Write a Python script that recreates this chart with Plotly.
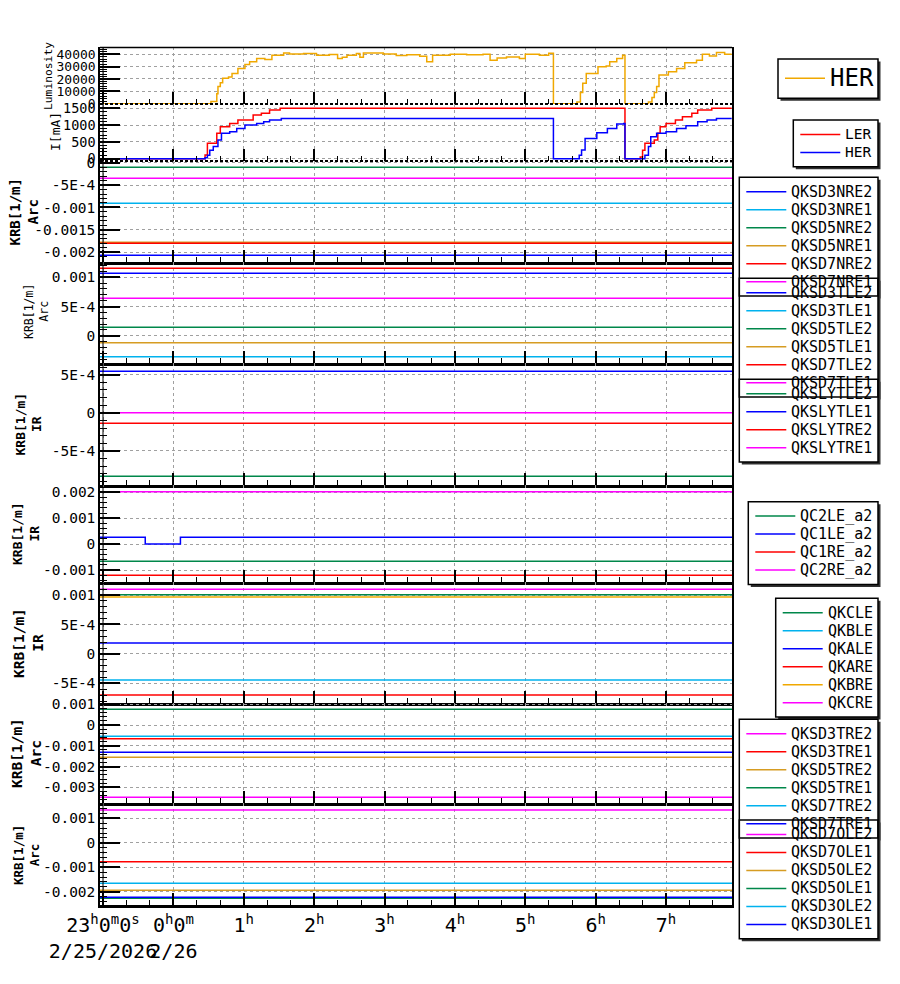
import plotly.graph_objects as go

# ---------------- data ----------------
RANGE_START = "2026-02-25 22:57:26"
RANGE_END = "2026-02-26 07:56:15"
SPAN_START = "22:57"
SPAN_END = "07:57"

x_tickvals = ["23:00", "00:00", "01:00", "02:00", "03:00", "04:00", "05:00", "06:00", "07:00"]
x_ticktext = ["23<sup>h</sup>0<sup>m</sup>0<sup>s</sup><br>2/25/2026", "0<sup>h</sup>0<sup>m</sup><br>2/26",
              "1<sup>h</sup>", "2<sup>h</sup>", "3<sup>h</sup>", "4<sup>h</sup>", "5<sup>h</sup>",
              "6<sup>h</sup>", "7<sup>h</sup>"]

lum_her_t = ["22:57", "00:32", "00:37", "00:38", "00:40", "00:42", "00:47", "00:50", "00:55", "01:01",
             "01:05", "01:11", "01:18", "01:24", "01:34", "01:39", "01:51", "02:02", "02:13", "02:20",
             "02:24", "02:28", "02:36", "02:39", "02:42", "02:59", "03:10", "03:19", "03:30", "03:36",
             "03:41", "03:56", "04:10", "04:24", "04:30", "04:36", "04:44", "04:55", "05:00", "05:12",
             "05:20", "05:24", "05:44", "05:47", "05:49", "05:52", "06:02", "06:09", "06:12", "06:18",
             "06:23", "06:25", "06:45", "06:48", "06:50", "06:52", "06:54", "07:02", "07:09", "07:16",
             "07:26", "07:31", "07:37", "07:43", "07:50", "07:56"]
lum_her_v = [0, 1900, 8000, 13900, 17000, 20500, 21500, 24500, 28500, 31700,
             33900, 36500, 35800, 39200, 41000, 40200, 40500, 39200, 39800, 36500,
             37500, 39200, 40500, 37500, 41000, 40200, 39000, 39600, 38400, 33900,
             39200, 40000, 39600, 40000, 35200, 37000, 37800, 36500, 40000, 39200,
             40800, 0, 1500, 9000, 16500, 24500, 29900, 30500, 33900, 36500,
             39200, 0, 1500, 5000, 9000, 13900, 23200, 25900, 28500, 33000,
             35200, 40000, 38500, 41300, 40000, 40000]

ler_t = ["22:57", "00:24", "00:27", "00:29", "00:37", "00:40", "00:48", "00:55", "01:08", "01:15",
         "01:22", "01:31", "06:25", "06:38", "06:40", "06:42", "06:50", "06:53", "06:55", "07:00",
         "07:08", "07:14", "07:22", "07:27", "07:39", "07:56"]
ler_v = [0, 0, 110, 460, 760, 950, 1050, 1150, 1300, 1350,
         1450, 1500, 0, 50, 250, 460, 560, 760, 950, 1050,
         1150, 1250, 1350, 1450, 1500, 1500]

her_t = ["22:57", "00:27", "00:29", "00:31", "00:34", "00:38", "00:41", "00:48", "00:54", "01:01",
         "01:11", "01:17", "01:22", "01:32", "05:24", "05:46", "05:48", "05:51", "06:01", "06:10",
         "06:18", "06:24", "06:25", "06:42", "06:45", "06:47", "06:52", "07:00", "07:09", "07:17",
         "07:27", "07:35", "07:43", "07:56"]
her_v = [0, 30, 100, 250, 360, 560, 760, 800, 900, 1000,
         1050, 1100, 1150, 1200, 0, 100, 260, 600, 770, 900,
         1030, 1050, 0, 100, 360, 650, 760, 800, 900, 980,
         1100, 1150, 1200, 1200]

nre_names = ["QKSD3NRE2", "QKSD3NRE1", "QKSD5NRE2", "QKSD5NRE1", "QKSD7NRE2", "QKSD7NRE1"]
nre_vals = [-2.067e-3, -9.07e-4, -1.05e-4, -1.777e-3, -1.799e-3, -3.5e-4]

tle_names = ["QKSD3TLE2", "QKSD3TLE1", "QKSD5TLE2", "QKSD5TLE1", "QKSD7TLE2", "QKSD7TLE1"]
tle_vals = [1.068e-3, -3.60e-4, 1.44e-4, -1.20e-4, 1.154e-3, 6.40e-4]

sly_names = ["QKSLYTLE2", "QKSLYTLE1", "QKSLYTRE2", "QKSLYTRE1"]
sly_vals = [-8.32e-4, 5.45e-4, -1.37e-4, 0.0]

qc_names = ["QC2LE_a2", "QC1LE_a2", "QC1RE_a2", "QC2RE_a2"]
qc_vals = [-6.64e-4, 2.63e-4, -1.205e-3, 2.023e-3]
qc1le_t = ["22:57", "23:36", "00:06", "07:57"]
qc1le_v = [2.63e-4, 0.0, 2.63e-4, 2.63e-4]

qk_names = ["QKCLE", "QKBLE", "QKALE", "QKARE", "QKBRE", "QKCRE"]
qk_vals = [1.006e-3, -4.43e-4, 1.85e-4, -6.98e-4, 9.67e-4, 1.097e-3]

tre_names = ["QKSD3TRE2", "QKSD3TRE1", "QKSD5TRE2", "QKSD5TRE1", "QKSD7TRE2", "QKSD7TRE1"]
tre_vals = [-3.482e-3, -6.58e-4, -1.554e-3, 7.59e-4, -5.42e-4, -1.313e-3]

ole_names = ["QKSD7OLE2", "QKSD7OLE1", "QKSD5OLE2", "QKSD5OLE1", "QKSD3OLE2", "QKSD3OLE1"]
ole_vals = [1.341e-3, -7.72e-4, -1.941e-3, -2.268e-3, -1.655e-3, -2.228e-3]

lum_ticks = [0, 10000, 20000, 30000, 40000]
cur_ticks = [0, 500, 1000, 1500]
nre_ticks = [0, -5e-4, -1e-3, -1.5e-3, -2e-3]
nre_ticktext = ["0", "-5E-4", "-0.001", "-0.0015", "-0.002"]
tle_ticks = [1e-3, 5e-4, 0]
tle_ticktext = ["0.001", "5E-4", "0"]
sly_ticks = [5e-4, 0, -5e-4]
sly_ticktext = ["5E-4", "0", "-5E-4"]
qc_ticks = [2e-3, 1e-3, 0, -1e-3]
qc_ticktext = ["0.002", "0.001", "0", "-0.001"]
qk_ticks = [1e-3, 5e-4, 0, -5e-4]
qk_ticktext = ["0.001", "5E-4", "0", "-5E-4"]
tre_ticks = [1e-3, 0, -1e-3, -2e-3, -3e-3]
tre_ticktext = ["0.001", "0", "-0.001", "-0.002", "-0.003"]
ole_ticks = [1e-3, 0, -1e-3, -2e-3]
ole_ticktext = ["0.001", "0", "-0.001", "-0.002"]

# ---------------- styles ----------------
COL = {"blue": "#0000ff", "cyan": "#00b2ee", "green": "#00874a", "gold": "#d69c22",
       "red": "#ff0000", "magenta": "#ff00ff", "orange": "#f0a800"}
nre_colors = ["blue", "cyan", "green", "gold", "red", "magenta"]
tle_colors = ["blue", "cyan", "green", "gold", "red", "magenta"]
sly_colors = ["green", "blue", "red", "magenta"]
qc_colors = ["green", "blue", "red", "magenta"]
qk_colors = ["green", "cyan", "blue", "red", "orange", "magenta"]
tre_colors = ["magenta", "red", "gold", "green", "cyan", "blue"]
ole_colors = ["magenta", "red", "gold", "green", "cyan", "blue"]

FONT = "DejaVu Sans Mono"
W, H = 900, 984
OFF = 8          # page body margin of the browser
PX0, PX1 = 100, 732
DASH = "3px,3px"


def ts(hm):
    return ("2026-02-25 " if int(hm[:2]) >= 12 else "2026-02-26 ") + hm


def X(px):
    return (px - OFF) / W


def Y(py):
    return 1 - (py - OFF) / H


fig = go.Figure()


def ax(i, kind):
    return kind if i == 1 else f"{kind}{i}"


def add_line(i, t, v, color, name):
    fig.add_trace(go.Scatter(
        x=[ts(s) for s in t], y=v, mode="lines", name=name, showlegend=False,
        line=dict(color=COL[color], width=1.5, shape="hv"),
        xaxis=ax(i, "x"), yaxis=ax(i, "y")))


def add_const(i, names, vals, colors):
    for n, v, c in zip(names, vals, colors):
        if n == "QC1LE_a2":
            add_line(i, qc1le_t, qc1le_v, c, n)
        else:
            add_line(i, [SPAN_START, SPAN_END], [v, v], c, n)


add_line(1, lum_her_t, lum_her_v, "orange", "HER")
add_line(2, ler_t, ler_v, "red", "LER")
add_line(2, her_t, her_v, "blue", "HER")
add_const(3, nre_names, nre_vals, nre_colors)
add_const(4, tle_names, tle_vals, tle_colors)
add_const(5, sly_names, sly_vals, sly_colors)
add_const(6, qc_names, qc_vals, qc_colors)
add_const(7, qk_names, qk_vals, qk_colors)
add_const(8, tre_names, tre_vals, tre_colors)
add_const(9, ole_names, ole_vals, ole_colors)

# panel layout: (top px, bottom px, y-range, tickvals, ticktext, minor dtick, tick font size)
panels = [
    (47, 104, [-200, 45800], lum_ticks, [str(v) for v in lum_ticks], 2000, 13),
    (104, 161, [-68, 1628], cur_ticks, [str(v) for v in cur_ticks], 100, 13.5),
    (161, 262, [-2.216e-3, 3.6e-5], nre_ticks, nre_ticktext, 1e-4, 14.5),
    (262, 363, [-4.67e-4, 1.262e-3], tle_ticks, tle_ticktext, 1e-4, 14.5),
    (363, 485, [-9.46e-4, 6.53e-4], sly_ticks, sly_ticktext, 1e-4, 14.5),
    (485, 582, [-1.463e-3, 2.282e-3], qc_ticks, qc_ticktext, 2e-4, 14.5),
    (582, 703, [-8.34e-4, 1.221e-3], qk_ticks, qk_ticktext, 1e-4, 14.5),
    (703, 803, [-3.757e-3, 1.063e-3], tre_ticks, tre_ticktext, 2e-4, 14.5),
    (803, 905, [-2.542e-3, 1.627e-3], ole_ticks, ole_ticktext, 2e-4, 14.5),
]

GRID = "#a0a0a0"
layout = {}
for i, (top, bot, yr, tv, tt, mdt, fs) in enumerate(panels, start=1):
    xa = dict(
        domain=[X(PX0), X(PX1)], anchor=ax(i, "y"), type="date", range=[RANGE_START, RANGE_END],
        tickmode="array", tickvals=[ts(s) for s in x_tickvals],
        showticklabels=(i == 9), tickangle=0, ticks="inside", ticklen=12, tickwidth=1.5,
        tickcolor="black", tickfont=dict(family=FONT, size=20, color="black"),
        minor=dict(ticks="inside", ticklen=5, tickwidth=1, tickcolor="black",
                   tick0="2026-02-25 23:00:00", dtick=20 * 60 * 1000, showgrid=False),
        showgrid=True, gridcolor=GRID, griddash=DASH, gridwidth=1,
        showline=(i >= 3), linecolor="black", linewidth=3, zeroline=False, automargin=False,
    )
    if i == 9:
        xa["ticktext"] = x_ticktext
    if i > 1:
        xa["matches"] = "x"
    ya = dict(
        domain=[Y(bot), Y(top)], anchor=ax(i, "x"), range=yr,
        tickmode="array", tickvals=tv, ticktext=tt, ticks="inside", ticklen=20, tickwidth=1.5,
        tickcolor="black", tickfont=dict(family=FONT, size=fs, color="black"),
        minor=dict(ticks="inside", ticklen=7, tickwidth=1, tickcolor="black",
                   tick0=0, dtick=mdt, showgrid=False),
        showgrid=True, gridcolor=GRID, griddash=DASH, gridwidth=1,
        showline=True, linecolor="black", linewidth=1.5, mirror=True,
        zeroline=False, automargin=False,
    )
    layout[ax(i, "xaxis")] = xa
    layout[ax(i, "yaxis")] = ya

shapes = []
annotations = []

# borders
shapes.append(dict(type="line", xref="paper", yref="paper", x0=X(PX0), x1=X(PX1), y0=Y(47.5), y1=Y(47.5),
                   line=dict(color="black", width=1.5)))
for yb in (104, 161):
    shapes.append(dict(type="line", xref="paper", yref="paper", x0=X(PX0), x1=X(PX1), y0=Y(yb), y1=Y(yb),
                       line=dict(color="black", width=2, dash="3px,2px")))
shapes.append(dict(type="line", xref="x", yref="paper", x0=ts("23:00"), x1=ts("23:00"),
                   y0=Y(905), y1=Y(47), line=dict(color="black", width=1)))


# y-axis titles
def ytitle(text, cx, cy, size, bold=True):
    annotations.append(dict(
        text=f"<b>{text}</b>" if bold else text, xref="paper", yref="paper",
        x=X(cx), y=Y(cy), xanchor="center", yanchor="middle", textangle=-90, showarrow=False,
        font=dict(family=FONT, size=size, color="black")))


ytitle("Luminosity", 49, 76, 11.3, bold=False)
ytitle("I[mA]", 56, 132, 13, bold=False)
ytitle("KRB[1/m]<br>Arc", 23.5, 212, 14)
ytitle("KRB[1/m]<br>Arc", 36, 312, 11.5, bold=False)
ytitle("KRB[1/m]<br>IR", 28.5, 424, 13)
ytitle("KRB[1/m]<br>IR", 26, 534, 13)
ytitle("KRB[1/m]<br>IR", 28, 643, 14.5)
ytitle("KRB[1/m]<br>Arc", 26, 753, 14.5)
ytitle("KRB[1/m]<br>Arc", 26, 855, 12.5)

# legends (drawn by hand)
LEG_R = 878
legends = [
    dict(x0=778, y0=59, y1=98.3, names=["HER"], colors=["orange"], first=19.3, size=24),
    dict(x0=793.3, y0=120, names=["LER", "HER"], colors=["red", "blue"], size=14.5),
    dict(x0=739.3, y0=177.3, names=nre_names, colors=nre_colors),
    dict(x0=739.3, y0=278.3, names=tle_names, colors=tle_colors),
    dict(x0=739.3, y0=379.3, names=sly_names, colors=sly_colors),
    dict(x0=748.3, y0=501.7, names=qc_names, colors=qc_colors),
    dict(x0=775.7, y0=598.3, names=qk_names, colors=qk_colors),
    dict(x0=739.3, y0=719.3, names=tre_names, colors=tre_colors),
    dict(x0=739.3, y0=820, names=ole_names, colors=ole_colors),
]
for lg in legends:
    n = len(lg["names"])
    lg.setdefault("first", 14.4)
    lg.setdefault("size", 15)
    lg.setdefault("y1", lg["y0"] + 2 * 14.4 + 18 * (n - 1))

for lg in legends:
    shapes.append(dict(type="rect", xref="paper", yref="paper", layer="above",
                       x0=X(lg["x0"] + 2.5), x1=X(LEG_R + 2.5), y0=Y(lg["y1"] + 2.5), y1=Y(lg["y0"] + 2.5),
                       fillcolor="#303030", line=dict(width=0)))
for lg in legends:
    shapes.append(dict(type="rect", xref="paper", yref="paper", layer="above",
                       x0=X(lg["x0"]), x1=X(LEG_R), y0=Y(lg["y1"]), y1=Y(lg["y0"]),
                       fillcolor="white", line=dict(width=0)))
for lg in legends:
    shapes.append(dict(type="rect", xref="paper", yref="paper", layer="above",
                       x0=X(lg["x0"]), x1=X(LEG_R), y0=Y(lg["y1"]), y1=Y(lg["y0"]),
                       line=dict(color="black", width=1.5)))
    for k, (nm, c) in enumerate(zip(lg["names"], lg["colors"])):
        yy = lg["y0"] + lg["first"] + 18 * k
        shapes.append(dict(type="line", xref="paper", yref="paper", layer="above",
                           x0=X(lg["x0"] + 7), x1=X(lg["x0"] + 47), y0=Y(yy), y1=Y(yy),
                           line=dict(color=COL[c], width=1.5)))
        annotations.append(dict(text=nm, xref="paper", yref="paper", x=X(lg["x0"] + 51), y=Y(yy),
                                xanchor="left", yanchor="middle", showarrow=False, borderpad=0,
                                font=dict(family=FONT, size=lg["size"], color="black")))

fig.update_layout(
    width=W, height=H, margin=dict(l=0, r=0, t=0, b=0),
    paper_bgcolor="white", plot_bgcolor="white",
    font=dict(family=FONT, color="black"),
    showlegend=False, shapes=shapes, annotations=annotations, **layout)

fig.write_html("out.html")
